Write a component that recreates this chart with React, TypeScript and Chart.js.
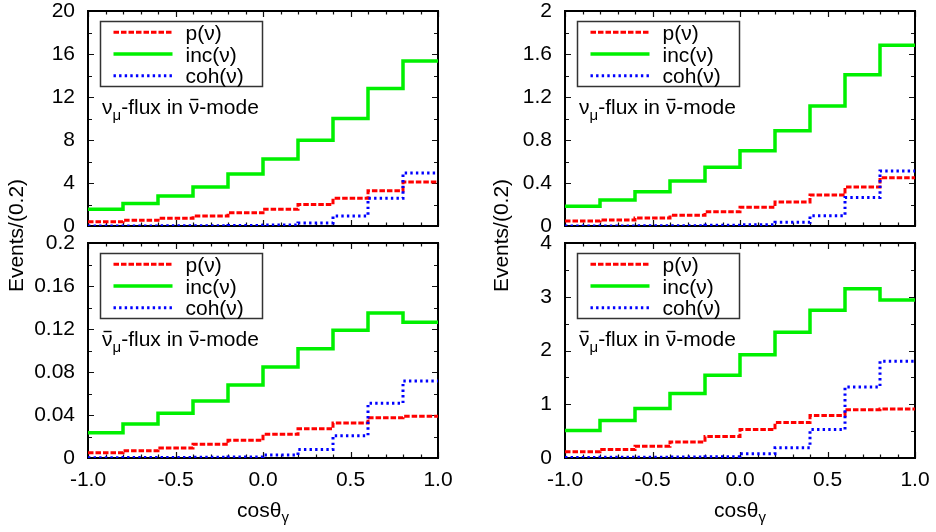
import React, { useEffect, useRef } from "react";
import { Chart, registerables } from "chart.js";

Chart.register(...registerables);

const FONT = "'Liberation Sans', Arial, Helvetica, sans-serif";

// bin lower edges (bin width 0.2), last bin closes at xMax
const binEdges = [-1.0, -0.8, -0.6, -0.4, -0.2, 0.0, 0.2, 0.4, 0.6, 0.8];
const xMax = 1.0;
const xTickValues = [-1.0, -0.5, 0.0, 0.5, 1.0];
const xTickLabels = ["-1.0", "-0.5", "0.0", "0.5", "1.0"];

const seriesNames = ["p(ν)", "inc(ν)", "coh(ν)"];

// Panel A: nu_mu flux in nubar-mode (left, top)
const aP = [0.4, 0.53, 0.71, 0.93, 1.24, 1.55, 2.0, 2.57, 3.29, 4.09];
const aInc = [1.55, 2.1, 2.8, 3.63, 4.84, 6.23, 7.97, 10.0, 12.78, 15.35];
const aCoh = [0.01, 0.01, 0.02, 0.02, 0.05, 0.1, 0.28, 0.93, 2.57, 4.93];
const aTicks = [0, 4, 8, 12, 16, 20];
const aTickLabels = ["0", "4", "8", "12", "16", "20"];

// Panel B: nu_mu flux in nubar-mode (right, top)
const bP = [0.047, 0.056, 0.074, 0.099, 0.133, 0.174, 0.223, 0.288, 0.363, 0.45];
const bInc = [0.183, 0.242, 0.319, 0.419, 0.546, 0.7, 0.887, 1.116, 1.408, 1.681];
const bCoh = [0.001, 0.001, 0.002, 0.002, 0.006, 0.012, 0.034, 0.096, 0.264, 0.512];
const bTicks = [0, 0.4, 0.8, 1.2, 1.6, 2];
const bTickLabels = ["0", "0.4", "0.8", "1.2", "1.6", "2"];

// Panel C: nubar_mu flux in nubar-mode (left, bottom)
const cP = [0.005, 0.0068, 0.0093, 0.0127, 0.0164, 0.022, 0.0273, 0.0326, 0.0375, 0.0388];
const cInc = [0.0236, 0.0316, 0.0416, 0.053, 0.0679, 0.0847, 0.1017, 0.1188, 0.1349, 0.1262];
const cCoh = [0.0003, 0.0004, 0.0005, 0.0006, 0.001, 0.0028, 0.0078, 0.0208, 0.0509, 0.0716];
const cTicks = [0, 0.04, 0.08, 0.12, 0.16, 0.2];
const cTickLabels = ["0", "0.04", "0.08", "0.12", "0.16", "0.2"];

// Panel D: nubar_mu flux in nubar-mode (right, bottom)
const dP = [0.118, 0.16, 0.22, 0.3, 0.4, 0.53, 0.66, 0.79, 0.9, 0.91];
const dInc = [0.51, 0.7, 0.92, 1.2, 1.54, 1.92, 2.34, 2.75, 3.15, 2.94];
const dCoh = [0.01, 0.012, 0.015, 0.02, 0.025, 0.08, 0.19, 0.53, 1.32, 1.8];
const dTicks = [0, 1, 2, 3, 4];
const dTickLabels = ["0", "1", "2", "3", "4"];

type Spec = {
  p: number[];
  inc: number[];
  coh: number[];
  ticks: number[];
  tickLabels: string[];
  side: "left" | "right";
  row: "top" | "bottom";
  barFirst: boolean;
};

const specs: Spec[] = [
  { p: aP, inc: aInc, coh: aCoh, ticks: aTicks, tickLabels: aTickLabels, side: "left", row: "top", barFirst: false },
  { p: bP, inc: bInc, coh: bCoh, ticks: bTicks, tickLabels: bTickLabels, side: "right", row: "top", barFirst: false },
  { p: cP, inc: cInc, coh: cCoh, ticks: cTicks, tickLabels: cTickLabels, side: "left", row: "bottom", barFirst: true },
  { p: dP, inc: dInc, coh: dCoh, ticks: dTicks, tickLabels: dTickLabels, side: "right", row: "bottom", barFirst: true },
];

const CW = 468;
const CH = 532;

const styles = [
  { color: "#ff0000", width: 3, dash: [5.5, 2] },
  { color: "#00f000", width: 3.5, dash: [] as number[] },
  { color: "#0000ff", width: 3, dash: [2.4, 3.2] },
];

function stepPoints(vals: number[]) {
  const pts = binEdges.map((x, i) => ({ x, y: vals[i] }));
  pts.push({ x: xMax, y: vals[vals.length - 1] });
  return pts;
}

function drawPanelLabel(ctx: CanvasRenderingContext2D, x: number, base: number, barFirst: boolean) {
  const big = `21px ${FONT}`;
  const small = `15px ${FONT}`;
  ctx.fillStyle = "#000";
  ctx.strokeStyle = "#000";
  ctx.textAlign = "left";
  ctx.textBaseline = "alphabetic";
  let cx = x;
  const bar = (x0: number, w: number) => {
    ctx.beginPath();
    ctx.lineWidth = 1.4;
    ctx.moveTo(x0 + 1.5, base - 14.5);
    ctx.lineTo(x0 + w - 1, base - 14.5);
    ctx.stroke();
  };
  ctx.font = big;
  ctx.fillText("ν", cx, base);
  let w = ctx.measureText("ν").width;
  if (barFirst) bar(cx, w);
  cx += w;
  ctx.font = small;
  ctx.fillText("μ", cx, base + 6);
  cx += ctx.measureText("μ").width;
  ctx.font = big;
  ctx.fillText("-flux in ", cx, base);
  cx += ctx.measureText("-flux in ").width;
  ctx.fillText("ν", cx, base);
  w = ctx.measureText("ν").width;
  bar(cx, w);
  cx += w;
  ctx.fillText("-mode", cx, base);
}

function makePlugin(spec: Spec) {
  return {
    id: "gnuFrame",
    beforeDatasetsDraw(chart: any) {
      const { ctx, chartArea } = chart;
      const { left, right, top, bottom } = chartArea;
      const xs = chart.scales.x;
      const ys = chart.scales.y;
      ctx.save();
      ctx.strokeStyle = "#111";
      ctx.lineWidth = 1.2;
      ctx.beginPath();
      // x ticks: major at labelled values, minor every 0.1
      for (let k = -10; k <= 10; k++) {
        const v = k / 10;
        const px = Math.round(xs.getPixelForValue(v)) + 0.5;
        const len = k % 5 === 0 ? 6 : 3.5;
        ctx.moveTo(px, bottom);
        ctx.lineTo(px, bottom - len);
        ctx.moveTo(px, top);
        ctx.lineTo(px, top + len);
      }
      // y ticks: major at labels, minor halfway
      const t = spec.ticks;
      const step = t[1] - t[0];
      for (let i = 0; i < t.length; i++) {
        for (const v of [t[i], t[i] + step / 2]) {
          if (v > t[t.length - 1] + 1e-9) continue;
          const py = Math.round(ys.getPixelForValue(v)) + 0.5;
          const len = v === t[i] ? 6 : 4;
          ctx.moveTo(left, py);
          ctx.lineTo(left + len, py);
          ctx.moveTo(right, py);
          ctx.lineTo(right - len, py);
        }
      }
      ctx.stroke();
      ctx.lineWidth = 2;
      ctx.strokeStyle = "#000";
      ctx.strokeRect(left, top, right - left, bottom - top);
      ctx.restore();
    },
    afterDraw(chart: any) {
      const { ctx, chartArea } = chart;
      const { left, right, top, bottom } = chartArea;
      ctx.save();
      // legend box
      const bx = left + 12.5;
      const by = top + 10.5;
      ctx.lineWidth = 1.5;
      ctx.strokeStyle = "#333";
      ctx.strokeRect(bx, by, 162, 65);
      ctx.font = `21px ${FONT}`;
      ctx.textAlign = "left";
      ctx.textBaseline = "alphabetic";
      for (let i = 0; i < 3; i++) {
        const ry = top + 21.3 + i * 21.7;
        const s = styles[i];
        ctx.beginPath();
        ctx.strokeStyle = s.color;
        ctx.lineWidth = s.width;
        ctx.setLineDash(s.dash);
        ctx.moveTo(bx + 13, ry);
        ctx.lineTo(bx + 72, ry);
        ctx.stroke();
        ctx.setLineDash([]);
        ctx.fillStyle = "#000";
        ctx.fillText(seriesNames[i], bx + 85, ry + 7.5);
      }
      // panel label
      drawPanelLabel(ctx, left + 14, top + 103, spec.barFirst);

      // shared y title (drawn once per column, on top-row canvas)
      if (spec.row === "top") {
        ctx.save();
        const tx = spec.side === "left" ? 17.5 : 34.5;
        ctx.translate(tx, 235.5);
        ctx.rotate(-Math.PI / 2);
        ctx.font = `21px ${FONT}`;
        ctx.textAlign = "center";
        ctx.textBaseline = "middle";
        ctx.fillStyle = "#000";
        ctx.fillText("Events/(0.2)", 0, 0);
        ctx.restore();
      }
      // x title with subscript gamma
      if (spec.row === "bottom") {
        const big = `21px ${FONT}`;
        const small = `15px ${FONT}`;
        ctx.font = big;
        const w1 = ctx.measureText("cosθ").width;
        ctx.font = small;
        const w2 = ctx.measureText("γ").width;
        const cx = (left + right) / 2 - (w1 + w2) / 2;
        const base = bottom + 59;
        ctx.fillStyle = "#000";
        ctx.textAlign = "left";
        ctx.textBaseline = "alphabetic";
        ctx.font = big;
        ctx.fillText("cosθ", cx, base);
        ctx.font = small;
        ctx.fillText("γ", cx + w1, base + 5);
      }
      ctx.restore();
    },
  };
}

function Panel({ spec }: { spec: Spec }) {
  const ref = useRef<HTMLCanvasElement | null>(null);
  useEffect(() => {
    const canvas = ref.current;
    if (!canvas) return;
    const isTop = spec.row === "top";
    const yWidth = spec.side === "left" ? 88 : 97;
    const padRight = spec.side === "left" ? 30 : 21;
    const padTop = isTop ? 11 : 243;
    const padBottom = isTop ? 306 : 0;
    const xHeight = isTop ? 0 : 74;
    const series = [spec.p, spec.inc, spec.coh];
    const orders = [1, 2, 0];
    const chart = new Chart(canvas, {
      type: "line",
      data: {
        datasets: series.map((vals, i) => ({
          label: seriesNames[i],
          data: stepPoints(vals),
          stepped: "before" as const,
          borderColor: styles[i].color,
          borderWidth: styles[i].width,
          borderDash: styles[i].dash,
          pointRadius: 0,
          fill: false,
          order: orders[i],
        })),
      },
      options: {
        responsive: false,
        animation: false,
        devicePixelRatio: 1,
        events: [],
        layout: { padding: { left: 0, right: padRight, top: padTop, bottom: padBottom } },
        plugins: { legend: { display: false }, tooltip: { enabled: false } },
        scales: {
          x: {
            type: "linear",
            min: -1,
            max: 1,
            display: !isTop,
            grid: { display: false, drawTicks: false },
            border: { display: false },
            afterBuildTicks: (s: any) => {
              s.ticks = xTickValues.map((v) => ({ value: v }));
            },
            afterFit: (s: any) => {
              s.height = xHeight;
              s.paddingLeft = 0;
              s.paddingRight = 0;
            },
            ticks: {
              display: !isTop,
              autoSkip: false,
              maxRotation: 0,
              padding: 10,
              color: "#000",
              font: { family: FONT, size: 21 },
              callback: (_v: any, i: number) => xTickLabels[i],
            },
          },
          y: {
            type: "linear",
            min: spec.ticks[0],
            max: spec.ticks[spec.ticks.length - 1],
            grid: { display: false, drawTicks: false },
            border: { display: false },
            afterBuildTicks: (s: any) => {
              s.ticks = spec.ticks.map((v) => ({ value: v }));
            },
            afterFit: (s: any) => {
              s.width = yWidth;
              s.paddingTop = 0;
              s.paddingBottom = 0;
            },
            ticks: {
              padding: 13,
              color: "#000",
              font: { family: FONT, size: 21 },
              callback: (_v: any, i: number) => spec.tickLabels[i],
            },
          },
        },
      },
      plugins: [makePlugin(spec)],
    } as any);
    return () => chart.destroy();
  }, [spec]);
  return (
    <canvas
      ref={ref}
      width={CW}
      height={CH}
      style={{ position: "absolute", left: spec.side === "left" ? 0 : CW, top: 0, width: CW, height: CH }}
    />
  );
}

export default function App() {
  return (
    <div style={{ position: "absolute", left: 0, top: 0, width: 936, height: 532, background: "#fff" }}>
      {specs.map((s, i) => (
        <Panel key={i} spec={s} />
      ))}
    </div>
  );
}
